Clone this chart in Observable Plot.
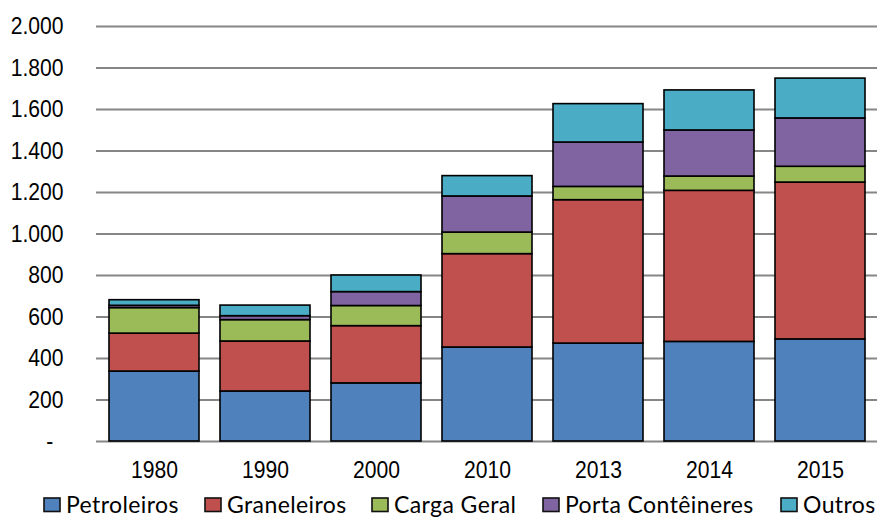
<!DOCTYPE html>
<html>
<head>
<meta charset="utf-8">
<script src="https://cdn.jsdelivr.net/npm/d3@7"></script>
<script src="https://cdn.jsdelivr.net/npm/@observablehq/plot@0.6"></script>
<style>
  html, body { margin: 0; padding: 0; background: #fff; }
  #chart { width: 877px; }
  #chart svg { display: block; }
</style>
</head>
<body>
<div id="chart"></div>
<script>
const years = ["1980", "1990", "2000", "2010", "2013", "2014", "2015"];
const seriesNames = ["Petroleiros", "Graneleiros", "Carga Geral", "Porta Contêineres", "Outros"];
const petroleiros      = [337, 241, 280, 453, 472, 480, 492];
const graneleiros      = [183, 241, 276, 450, 691, 728, 756];
const cargaGeral       = [123, 103,  97, 104,  64,  69,  76];
const portaConteineres = [ 11,  19,  67, 174, 214, 222, 233];
const outros           = [ 27,  51,  80,  98, 185, 193, 192];
const yTicks = [0, 200, 400, 600, 800, 1000, 1200, 1400, 1600, 1800, 2000];
const colors = ["#4F81BD", "#C0504D", "#9BBB59", "#8064A2", "#4BACC6"];

const seriesValues = [petroleiros, graneleiros, cargaGeral, portaConteineres, outros];
const data = [];
seriesNames.forEach((s, i) => years.forEach((y, j) => data.push({year: y, series: s, value: seriesValues[i][j]})));

const fmt = d3.formatLocale({decimal: ",", thousands: ".", grouping: [3], currency: ["", ""]}).format(",");

const plot = Plot.plot({
  width: 877,
  height: 490,
  marginLeft: 96,
  marginRight: 0,
  marginTop: 26,
  marginBottom: 49,
  style: {fontFamily: "'Liberation Sans', Arial, sans-serif", fontSize: "24px", color: "#000", background: "#fff"},
  x: {domain: years, paddingInner: 0.19, paddingOuter: 0.1, label: null, tickSize: 0, tickPadding: 19},
  y: {domain: [0, 2000], ticks: yTicks, label: null, tickSize: 0, tickPadding: 33,
      tickFormat: d => d === 0 ? "-\u00a0\u2009" : fmt(d)},
  color: {domain: seriesNames, range: colors},
  marks: [
    Plot.ruleY(yTicks, {stroke: "#868686", strokeWidth: 2}),
    Plot.barY(data, {x: "year", y: "value", fill: "series", order: null, stroke: "#000", strokeWidth: 1.6})
  ]
});
// condense axis labels horizontally, as in the reference
plot.querySelectorAll('g[aria-label$="tick label"] text').forEach(t => {
  let tr = t.getAttribute("transform") || "";
  const x = t.getAttribute("x");
  if (x != null && !isNaN(+x)) {
    tr += ` translate(${+x},0)`;
    t.removeAttribute("x");
  }
  t.setAttribute("transform", (tr + " scale(0.88,1.03)").trim());
});
document.getElementById("chart").appendChild(plot);

// legend below the plot
const textX = [66, 227, 394, 565, 803];
const lg = d3.create("svg").attr("width", 877).attr("height", 28)
  .style("font-family", "Lato, 'Open Sans', sans-serif").style("font-size", "23px");
seriesNames.forEach((s, i) => {
  lg.append("rect").attr("x", textX[i] - 22).attr("y", 8).attr("width", 16).attr("height", 13.5)
    .attr("fill", colors[i]).attr("stroke", "#111").attr("stroke-width", 1.6);
  lg.append("text").attr("x", textX[i]).attr("y", 23).attr("fill", "#000")
    .style("letter-spacing", "0.4px").text(s);
});
document.getElementById("chart").appendChild(lg.node());
</script>
</body>
</html>
